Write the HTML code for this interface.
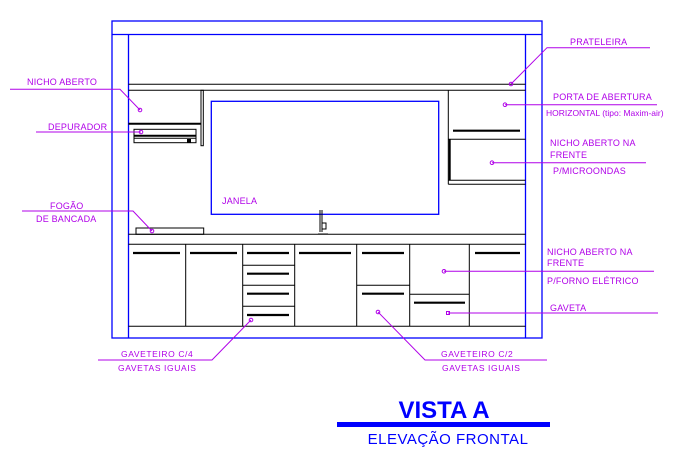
<!DOCTYPE html>
<html><head><style>body{margin:0;background:#fff}svg{display:block}</style></head><body>
<svg width="683" height="451" xmlns="http://www.w3.org/2000/svg" font-family="Liberation Sans, sans-serif">
<g fill="none" stroke="#0000ff" stroke-width="1.3">
<rect x="112" y="21" width="430" height="317"/>
<line x1="112" y1="34.5" x2="542" y2="34.5"/>
<line x1="128.5" y1="34.5" x2="128.5" y2="338"/>
<line x1="525.5" y1="34.5" x2="525.5" y2="338"/>
<rect x="211.3" y="101.3" width="227.4" height="113"/>
</g>
<g fill="none" stroke="#000" stroke-width="1">
<line x1="128.5" y1="84.3" x2="525.5" y2="84.3"/>
<line x1="128.5" y1="90.3" x2="525.5" y2="90.3"/>
<rect x="201" y="90.3" width="2.3" height="55.4"/>
<line x1="128.5" y1="123.7" x2="201" y2="123.7" stroke-width="2"/>
<rect x="134" y="129.3" width="62" height="13.4"/>
<line x1="134" y1="135.7" x2="196" y2="135.7" stroke-width="2"/>
<line x1="134" y1="138.3" x2="196" y2="138.3"/>
<line x1="448.3" y1="90.3" x2="448.3" y2="184.3"/>
<line x1="453" y1="130.7" x2="520" y2="130.7" stroke-width="2.2"/>
<line x1="448.3" y1="139.3" x2="525.5" y2="139.3"/>
<line x1="449.7" y1="139.3" x2="449.7" y2="180.3" stroke-width="2"/>
<line x1="448.3" y1="180.3" x2="525.5" y2="180.3"/>
<line x1="448.3" y1="184.3" x2="525.5" y2="184.3"/>
<rect x="136" y="228" width="67.7" height="6.3"/>
<line x1="128.5" y1="234.3" x2="525.5" y2="234.3"/>
<line x1="128.5" y1="244.3" x2="525.5" y2="244.3"/>
<line x1="128.5" y1="326.3" x2="525.5" y2="326.3"/>
<line x1="185.7" y1="244.3" x2="185.7" y2="326.3"/>
<line x1="242.7" y1="244.3" x2="242.7" y2="326.3"/>
<line x1="294.7" y1="244.3" x2="294.7" y2="326.3"/>
<line x1="356.7" y1="244.3" x2="356.7" y2="326.3"/>
<line x1="409.7" y1="244.3" x2="409.7" y2="326.3"/>
<line x1="469.3" y1="244.3" x2="469.3" y2="326.3"/>
<line x1="242.7" y1="265.3" x2="294.7" y2="265.3"/>
<line x1="242.7" y1="285.3" x2="294.7" y2="285.3"/>
<line x1="242.7" y1="306.3" x2="294.7" y2="306.3"/>
<line x1="356.7" y1="285.3" x2="409.7" y2="285.3"/>
<line x1="409.7" y1="294.3" x2="469.3" y2="294.3"/>
<line x1="320" y1="210" x2="320" y2="232"/>
<line x1="322" y1="210" x2="322" y2="232"/>
<rect x="322" y="223" width="4" height="6"/>
<line x1="318" y1="234" x2="328" y2="234"/>
</g>
<rect x="187" y="139" width="4" height="3.5" fill="#000"/>
<g stroke="#000" stroke-width="2.2">
<line x1="133" y1="253" x2="180" y2="253"/><line x1="190" y1="253" x2="237" y2="253"/>
<line x1="247" y1="253" x2="289" y2="253"/><line x1="299" y1="253" x2="351" y2="253"/>
<line x1="362" y1="253" x2="404" y2="253"/><line x1="475" y1="253" x2="520" y2="253"/>
<line x1="247" y1="273.7" x2="289" y2="273.7"/><line x1="247" y1="293.7" x2="289" y2="293.7"/>
<line x1="247" y1="315" x2="289" y2="315"/><line x1="362" y1="293.7" x2="404" y2="293.7"/>
<line x1="414" y1="302.7" x2="465" y2="302.7"/>
</g>
<g fill="none" stroke="#b000e8" stroke-width="1">
<polyline points="10,89.3 120,89.3 140,110"/>
<line x1="36" y1="132" x2="141" y2="132"/>
<polyline points="22,211 133,211 152,231"/>
<polyline points="650,47.7 547,47.7 511,84"/>
<line x1="505" y1="104.7" x2="657" y2="104.7"/>
<line x1="492" y1="162.7" x2="646" y2="162.7"/>
<line x1="444" y1="271.3" x2="654" y2="271.3"/>
<line x1="448" y1="313" x2="658" y2="313"/>
<polyline points="98,360 212,360 251,320"/>
<polyline points="547,360 425,360 378,312"/>
<circle cx="140" cy="110" r="1.8"/><circle cx="141" cy="132" r="1.8"/><circle cx="152" cy="231" r="1.8"/>
<circle cx="511" cy="84" r="1.8"/><circle cx="505" cy="104.7" r="1.8"/><circle cx="492" cy="162.7" r="1.8"/>
<circle cx="444" cy="271.3" r="1.8"/><rect x="446.5" y="311.5" width="3" height="3"/>
<circle cx="251" cy="320" r="1.8"/><circle cx="378" cy="312" r="1.8"/>
</g>
<g fill="#b000e8" font-size="9" letter-spacing="0.2">
<text x="27" y="85">NICHO ABERTO</text>
<text x="48" y="130">DEPURADOR</text>
<text x="50" y="209">FOGÃO</text>
<text x="36" y="222">DE BANCADA</text>
<text x="222" y="204">JANELA</text>
<text x="570" y="45">PRATELEIRA</text>
<text x="553" y="100">PORTA DE ABERTURA</text>
<text x="546" y="116" letter-spacing="0" font-size="8.5">HORIZONTAL (tipo: Maxim-air)</text>
<text x="550" y="146">NICHO ABERTO NA</text>
<text x="550" y="158">FRENTE</text>
<text x="553" y="174">P/MICROONDAS</text>
<text x="547" y="255">NICHO ABERTO NA</text>
<text x="547" y="266">FRENTE</text>
<text x="547" y="284">P/FORNO ELÉTRICO</text>
<text x="550" y="311">GAVETA</text>
<text x="121" y="357" font-size="8.5" letter-spacing="0.6">GAVETEIRO C/4</text>
<text x="118" y="371" font-size="8.5" letter-spacing="0.6">GAVETAS IGUAIS</text>
<text x="441" y="357" font-size="8.5" letter-spacing="0.6">GAVETEIRO C/2</text>
<text x="442" y="371" font-size="8.5" letter-spacing="0.6">GAVETAS IGUAIS</text>
</g>
<text x="444" y="418" fill="#0000ff" font-size="24" font-weight="bold" text-anchor="middle">VISTA A</text>
<rect x="337" y="422" width="213" height="5" fill="#0000ff"/>
<text x="448" y="444" fill="#0000ff" font-size="15" text-anchor="middle" letter-spacing="0.5">ELEVAÇÃO FRONTAL</text>
</svg>
</body></html>
